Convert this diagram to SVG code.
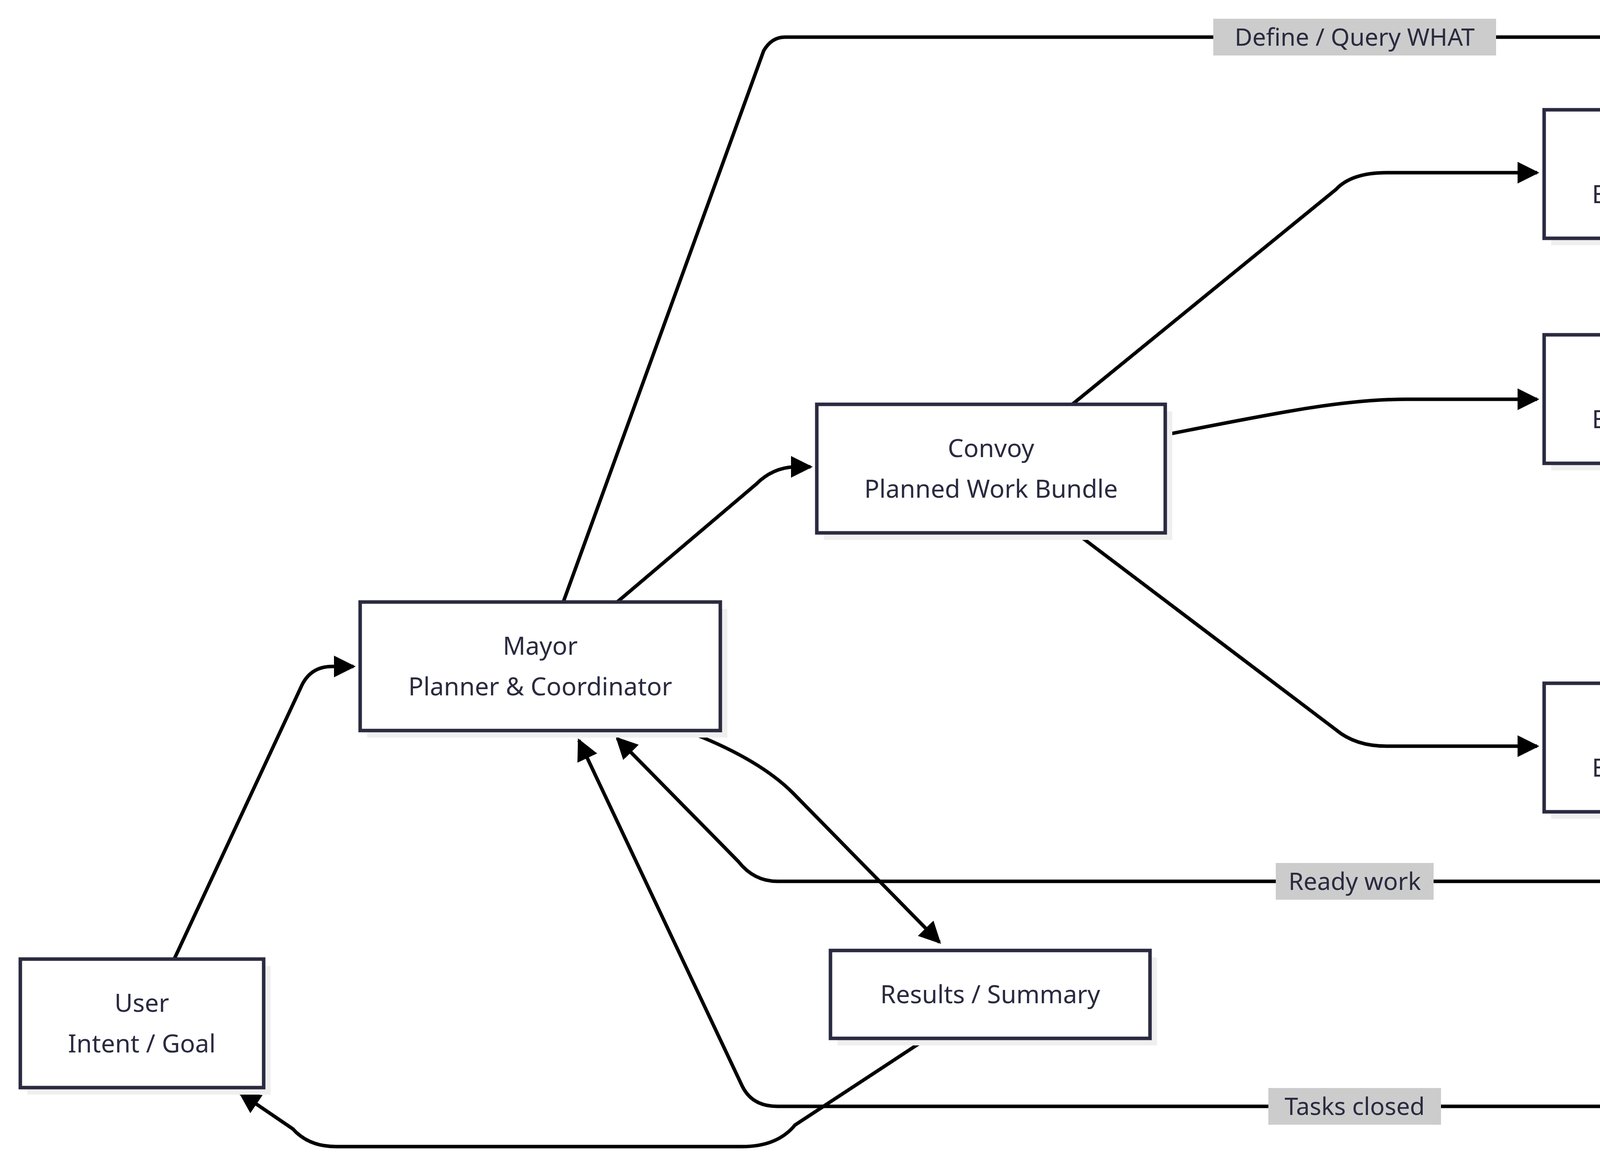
<svg xmlns="http://www.w3.org/2000/svg" width="6788" height="2977" viewBox="0 0 6788 2977">
<style>
.n rect.b{fill:#fff;stroke:#2a2a40;stroke-width:9}
.n rect.s{fill:#efefef}
text{font-family:"Noto Sans","Open Sans",sans-serif;font-size:64px;fill:#2a2a40;text-anchor:middle}
.e path{fill:none;stroke:#000;stroke-width:9;marker-end:url(#a)}
.l rect{fill:#cccccc}
.l text{font-size:62px}
</style>
<defs><marker id="a" markerUnits="userSpaceOnUse" markerWidth="56" markerHeight="56" viewBox="0 0 10 10" refX="9" refY="5" orient="auto"><path d="M0 0L10 5L0 10z" fill="#000"/></marker></defs>
<rect width="6788" height="2977" fill="#fff"/>
<g class="e">
<path d="M446 2455L770 1760Q793 1706 850 1706L905 1706"/>
<path d="M1580 1541L1935 1240Q1980 1195 2040 1195L2075 1195"/>
<path d="M1442 1541L1955 130Q1975 95 2010 95L5195 95Q5290 95 5320 150L6005 1300"/>
<path d="M2745 1035L3420 485Q3460 442 3550 442L3935 442"/>
<path d="M2983 1113C3300 1050 3450 1022 3600 1022L3935 1022"/>
<path d="M2754 1364L3420 1868Q3470 1910 3550 1910L3935 1910"/>
<path d="M4754 398L5260 338L5805 530"/>
<path d="M4754 528L5260 632L5882 1302"/>
<path d="M4754 940L5260 835L5805 758"/>
<path d="M4655 1186L5260 1520L5745 1602"/>
<path d="M4754 1827L5260 1723L5880 1074"/>
<path d="M4754 1957L5260 2013L5745 1853"/>
<path d="M5767 1970L5330 2208Q5250 2256 5190 2256L1990 2256Q1930 2256 1890 2205L1580 1890"/>
<path d="M5924 2065L5295 2785Q5250 2832 5190 2832L1990 2832Q1925 2832 1900 2780L1482 1895"/>
<path d="M1754 1870Q1940 1940 2030 2030L2405 2412"/>
<path d="M2373 2658L2035 2880Q1990 2935 1900 2935L860 2935Q790 2935 750 2890L615 2798"/>
</g>
<g class="l">
<g><rect x="3106" y="48" width="724" height="94"/><text x="3468" y="117">Define / Query WHAT</text></g>
<g><rect x="4879" y="291" width="762" height="94"/><text x="5260" y="360">Persist HOW FAR I got</text></g>
<g><rect x="4944" y="585" width="632" height="94"/><text x="5260" y="654">Update task state</text></g>
<g><rect x="4879" y="788" width="762" height="94"/><text x="5260" y="857">Persist HOW FAR I got</text></g>
<g><rect x="4944" y="1473" width="632" height="94"/><text x="5260" y="1542">Update task state</text></g>
<g><rect x="4879" y="1676" width="762" height="94"/><text x="5260" y="1745">Persist HOW FAR I got</text></g>
<g><rect x="4944" y="1966" width="632" height="94"/><text x="5260" y="2035">Update task state</text></g>
<g><rect x="3266" y="2209" width="404" height="94"/><text x="3468" y="2278">Ready work</text></g>
<g><rect x="3247" y="2785" width="442" height="94"/><text x="3468" y="2854">Tasks closed</text></g>
</g>
<g class="n" id="user"><rect class="s" x="70" y="2473" width="623" height="329"/><rect class="b" x="52" y="2455" width="623" height="329"/><text x="363" y="2590">User</text><text x="363" y="2694">Intent / Goal</text></g>
<g class="n" id="mayor"><rect class="s" x="940" y="1559" width="922" height="329"/><rect class="b" x="922" y="1541" width="922" height="329"/><text x="1383" y="1676">Mayor</text><text x="1383" y="1780">Planner &amp; Coordinator</text></g>
<g class="n" id="convoy"><rect class="s" x="2109" y="1053" width="892" height="329"/><rect class="b" x="2091" y="1035" width="892" height="329"/><text x="2537" y="1170">Convoy</text><text x="2537" y="1274">Planned Work Bundle</text></g>
<g class="n" id="results"><rect class="s" x="2144" y="2451" width="818" height="225"/><rect class="b" x="2126" y="2433" width="818" height="225"/><text x="2535" y="2568">Results / Summary</text></g>
<g class="n" id="p1"><rect class="s" x="3971" y="299" width="801" height="329"/><rect class="b" x="3953" y="281" width="801" height="329"/><text x="4353" y="416">Polecat Agent</text><text x="4353" y="520">Executes ONE task</text></g>
<g class="n" id="p2"><rect class="s" x="3971" y="875" width="801" height="329"/><rect class="b" x="3953" y="857" width="801" height="329"/><text x="4353" y="992">Polecat Agent</text><text x="4353" y="1096">Executes ONE task</text></g>
<g class="n" id="p3"><rect class="s" x="3971" y="1767" width="801" height="329"/><rect class="b" x="3953" y="1749" width="801" height="329"/><text x="4353" y="1884">Polecat Agent</text><text x="4353" y="1988">Executes ONE task</text></g>
<g class="n" id="hooks"><rect class="s" x="5846" y="334" width="849" height="749"/><rect class="b" x="5828" y="316" width="849" height="749"/>
<text x="6252" y="452">Hooks</text><text x="6252" y="556">WHAT I was doing</text><text x="6252" y="660">▪ In-progress state</text><text x="6252" y="764">▪ Notes / decisions</text><text x="6252" y="868">▪ Resume point</text><text x="6252" y="972">▪ Git-backed</text></g>
<g class="n" id="beads"><rect class="s" x="5785" y="1330" width="970" height="753"/><rect class="b" x="5767" y="1312" width="970" height="753"/>
<text x="6252" y="1450">Beads</text><text x="6252" y="1554">WHAT needs to be done</text><text x="6252" y="1658">▪ Tasks <tspan font-style="italic">bd-xxx</tspan></text><text x="6252" y="1762">▪ Dependencies</text><text x="6252" y="1866">▪ Status</text><text x="6252" y="1970">▪ Git source of truth</text></g>
</svg>
